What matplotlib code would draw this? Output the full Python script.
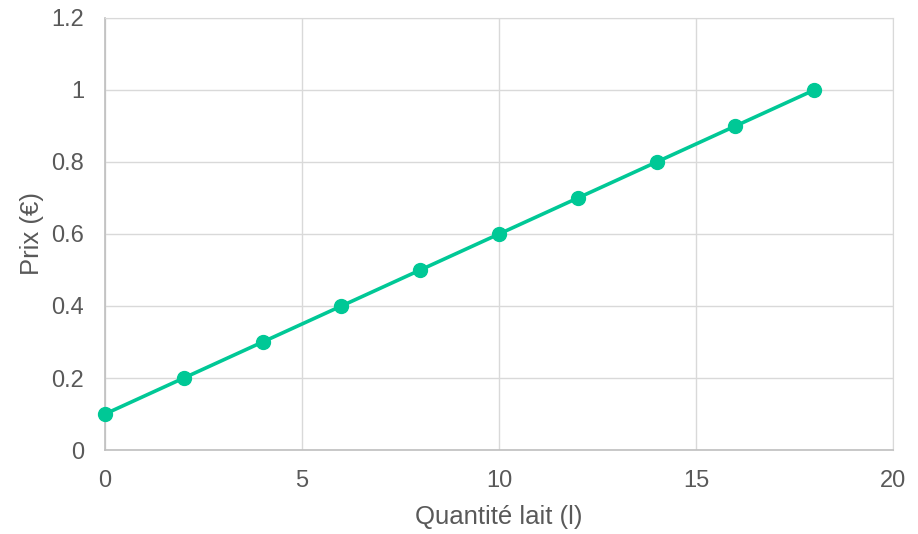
import matplotlib.pyplot as plt

plt.rcParams['font.family'] = ['Liberation Sans', 'DejaVu Sans']

quantite = [0, 2, 4, 6, 8, 10, 12, 14, 16, 18]
prix = [0.1, 0.2, 0.3, 0.4, 0.5, 0.6, 0.7, 0.8, 0.9, 1.0]
x_ticks = [0, 5, 10, 15, 20]
y_ticks = [0, 0.2, 0.4, 0.6, 0.8, 1, 1.2]
y_labels = ['0', '0.2', '0.4', '0.6', '0.8', '1', '1.2']

text_color = '#595959'
line_color = '#00C896'

fig = plt.figure(figsize=(9.18, 5.34), dpi=100)
ax = fig.add_axes([0.1144, 0.1573, 0.8584, 0.809])

ax.plot(quantite, prix, color=line_color, linewidth=2.6, marker='o',
        markersize=10, clip_on=False, zorder=3)

ax.set_xlim(0, 20)
ax.set_ylim(0, 1.2)
ax.set_xticks(x_ticks)
ax.set_yticks(y_ticks)
ax.set_yticklabels(y_labels)
ax.grid(True, color='#d9d9d9', linewidth=1)
ax.set_axisbelow(True)

for side in ['top', 'right']:
    ax.spines[side].set_color('#d9d9d9')
for side in ['left', 'bottom']:
    ax.spines[side].set_color('#bfbfbf')
    ax.spines[side].set_linewidth(1.2)

ax.tick_params(length=0, labelsize=17, colors=text_color)
ax.tick_params(axis='x', pad=14.5)
ax.tick_params(axis='y', pad=15)
ax.set_xlabel('Quantité lait (l)', fontsize=18.5, color=text_color, labelpad=9)
ax.set_ylabel('Prix (€)', fontsize=18.5, color=text_color, labelpad=5)

fig.savefig('out.png', dpi=100)
